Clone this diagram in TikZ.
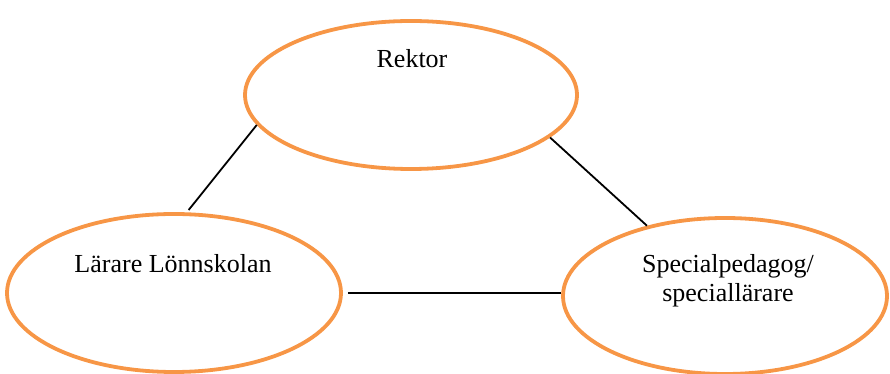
\documentclass[tikz,border=0pt]{standalone}
\usepackage{fontspec}
\setmainfont{Liberation Serif}
\usepackage{xcolor}
\usetikzlibrary{shapes.geometric, positioning, calc}

\definecolor{wordorange}{HTML}{F79646}

\tikzset{
  role/.style={ellipse, draw=wordorange, line width=3.8pt, inner sep=0pt},
  rolename/.style={font=\fontsize{26}{29}\selectfont, align=center, inner sep=0pt},
  tie/.style={black, line width=1.8pt}
}

\begin{document}
\begin{tikzpicture}[x=1pt,y=1pt]
    \useasboundingbox (0,0) rectangle (890,374);

    % Roles
    \node[role, minimum width=332pt, minimum height=148pt] (rektor) at (411,279) {};
    \node[role, minimum width=334pt, minimum height=158pt] (larare) at (174,81) {};
    \node[role, minimum width=324pt, minimum height=156pt] (special) at (725,78) {};

    \node[rolename] (rektortext) at (412,315) {Rektor};
    \node[rolename] (lararetext) at (173,110) {Lärare Lönnskolan};
    \node[rolename] (specialtext) at (728,93) {Specialpedagog/\\speciallärare};

    % Ties
    \draw[tie, shorten >=3pt] (rektor.191) -- (larare.81);
    \draw[tie] (rektor.-17) -- (special.138);
    \draw[tie, shorten <=5pt] (larare.east) -- (larare.east -| special.west);
  \end{tikzpicture}
\end{document}
